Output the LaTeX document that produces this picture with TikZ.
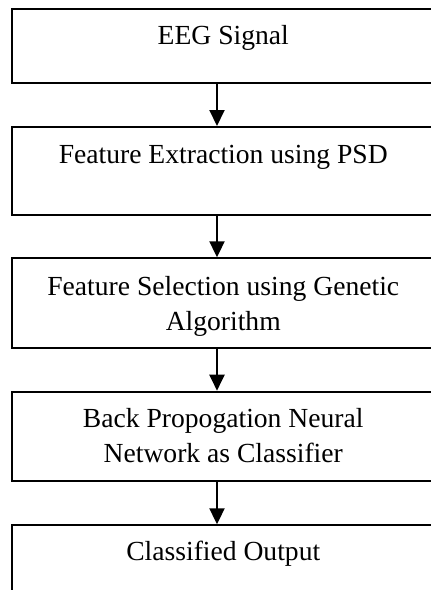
\documentclass[tikz,border=0pt]{standalone}
\usepackage{fontspec}
\setmainfont{Liberation Serif}
\usetikzlibrary{arrows.meta}
\tikzset{
  box/.style={draw, line width=2pt, inner sep=0pt, anchor=north west, minimum width=423.5pt},
  lbl/.style={font=\fontsize{27.6}{35}\selectfont, align=center, anchor=base, inner sep=0pt},
  arr/.style={line width=2pt, -{Triangle[width=15pt,length=16pt]}}
}
\begin{document}
\begin{tikzpicture}[x=1pt,y=-1pt]
\useasboundingbox (0,0) rectangle (431,590);
\clip (0,0) rectangle (431,590);
\node[box, minimum height=74pt] (b1) at (10.5,8.3) {};
\node[box, minimum height=88pt] (b2) at (10.5,126) {};
\node[box, minimum height=89.5pt] (b3) at (10.5,257.3) {};
\node[box, minimum height=89.5pt] (b4) at (10.5,390.7) {};
\node[box, minimum height=90pt] (b5) at (10.5,524.3) {};
\node[lbl] (t1) at ([yshift=-36pt]b1.north) {EEG Signal};
\node[lbl] (t2) at ([yshift=-37pt]b2.north) {Feature Extraction using PSD};
\node[lbl] (t3) at ([yshift=-73pt]b3.north) {Feature Selection using Genetic\\Algorithm};
\node[lbl] (t4) at ([yshift=-72pt]b4.north) {Back Propogation Neural\\Network as Classifier};
\node[lbl] (t5) at ([yshift=-36pt]b5.north) {Classified Output};
\coordinate (ax) at (217,0);
\draw[arr] (b1.south -| ax) -- (b2.north -| ax);
\draw[arr] (b2.south -| ax) -- (b3.north -| ax);
\draw[arr] (b3.south -| ax) -- (b4.north -| ax);
\draw[arr] (b4.south -| ax) -- (b5.north -| ax);
\end{tikzpicture}
\end{document}
